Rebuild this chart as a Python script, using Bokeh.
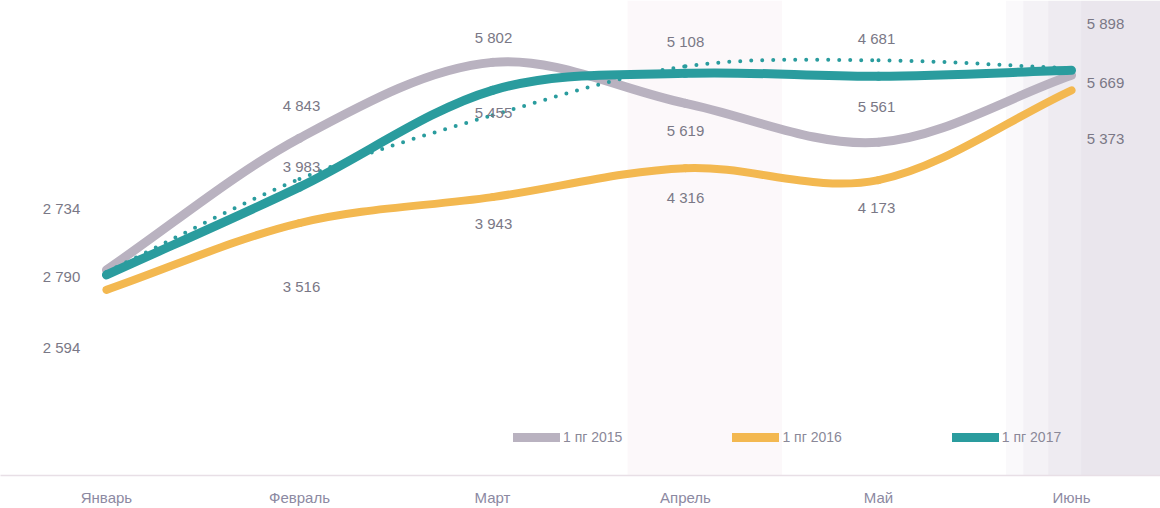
from bokeh.plotting import figure
from bokeh.models import (Range1d, FixedTicker, ColumnDataSource, Legend,
                          LegendItem, BoxAnnotation)
from bokeh.core.properties import value
from bokeh.embed import file_html
from bokeh.resources import INLINE

# ---------------- data ----------------
months = ["Январь", "Февраль", "Март", "Апрель", "Май", "Июнь"]
series_names = ["1 пг 2015", "1 пг 2016", "1 пг 2017"]

# curve levels (arbitrary visual scale)
line_2015 = [206, 338, 414, 373, 334, 401]
line_2016 = [186, 253, 279, 308, 296, 386]
line_2017 = [201, 289, 386, 403, 400, 406]
trend_2017 = [204, 297, 361, 410, 416, 408]

# data labels (three rows per month)
labels_top = [2734, 4843, 5802, 5108, 4681, 5898]
labels_mid = [2790, 3983, 5455, 5619, 5561, 5669]
labels_bottom = [2594, 3516, 3943, 4316, 4173, 5373]
label_level_top = [268, 371, 439, 435, 438, 453]
label_level_mid = [199, 310, 364, 346, 370, 394]
label_level_bottom = [128, 189, 253, 279, 269, 338]
label_shift = [-45, 2, 1, 0, -2, 34]

# ---------------- styles ----------------
C_GRAY = "#b9b2c0"
C_YELLOW = "#f3b850"
C_TEAL = "#2a9c9e"
TXT = "#7a7886"
FONT = "Liberation Sans"


def bezier_source(ys):
    n = len(ys)
    xs = list(range(n))
    m = []
    for i in range(n):
        if i == 0:
            m.append(ys[1] - ys[0])
        elif i == n - 1:
            m.append(ys[-1] - ys[-2])
        else:
            m.append((ys[i + 1] - ys[i - 1]) / 2)
    return ColumnDataSource(dict(
        x0=xs[:-1], y0=ys[:-1], x1=xs[1:], y1=ys[1:],
        cx0=[x + 1 / 3 for x in xs[:-1]],
        cy0=[ys[i] + m[i] / 3 for i in range(n - 1)],
        cx1=[x + 2 / 3 for x in xs[:-1]],
        cy1=[ys[i + 1] - m[i + 1] / 3 for i in range(n - 1)],
    ))


p = figure(width=1160, height=508, x_range=Range1d(-0.549, 5.461),
           y_range=Range1d(0, 476), output_backend="svg",
           toolbar_location=None, min_border=0)
p.outline_line_color = None
p.grid.visible = False
p.yaxis.visible = False
p.background_fill_color = "white"
p.border_fill_color = "white"

# scan-like tint on the right and middle (behind everything)
for left, alpha in [(4.66, 0.10), (4.75, 0.12), (4.88, 0.14), (5.05, 0.12)]:
    p.add_layout(BoxAnnotation(left=left, right=6, fill_color="#cdc3d4",
                               fill_alpha=alpha, line_color=None,
                               level="underlay"))
p.add_layout(BoxAnnotation(left=2.7, right=3.5, fill_color="#f6e9f0",
                           fill_alpha=0.3, line_color=None, level="underlay"))

ax = p.xaxis[0]
ax.ticker = FixedTicker(ticks=list(range(len(months))))
ax.major_label_overrides = {i: m for i, m in enumerate(months)}
ax.major_tick_line_color = None
ax.minor_tick_line_color = None
ax.axis_line_color = "#e8dfe6"
ax.axis_line_width = 1.5
ax.major_label_text_font = FONT
ax.major_label_text_font_size = "15px"
ax.major_label_text_color = "#8c89a2"
ax.major_label_standoff = 7

# curves
p.bezier(x0="x0", y0="y0", x1="x1", y1="y1", cx0="cx0", cy0="cy0",
         cx1="cx1", cy1="cy1", source=bezier_source(line_2015),
         line_color=C_GRAY, line_width=9, line_cap="round")
p.bezier(x0="x0", y0="y0", x1="x1", y1="y1", cx0="cx0", cy0="cy0",
         cx1="cx1", cy1="cy1", source=bezier_source(line_2016),
         line_color=C_YELLOW, line_width=8, line_cap="round")
p.bezier(x0="x0", y0="y0", x1="x1", y1="y1", cx0="cx0", cy0="cy0",
         cx1="cx1", cy1="cy1", source=bezier_source(trend_2017),
         line_color=C_TEAL, line_width=4, line_cap="round", line_dash="0 11")
p.bezier(x0="x0", y0="y0", x1="x1", y1="y1", cx0="cx0", cy0="cy0",
         cx1="cx1", cy1="cy1", source=bezier_source(line_2017),
         line_color=C_TEAL, line_width=9, line_cap="round")


def fmt(v):
    return f"{v:,}".replace(",", " ")


xs, ys, ts, offs = [], [], [], []
for vals, lev in [(labels_top, label_level_top), (labels_mid, label_level_mid),
                  (labels_bottom, label_level_bottom)]:
    for i in range(len(months)):
        xs.append(i)
        ys.append(lev[i])
        ts.append(fmt(vals[i]))
        offs.append(label_shift[i])
p.text(x="x", y="y", text="t", x_offset="o",
       source=ColumnDataSource(dict(x=xs, y=ys, t=ts, o=offs)),
       text_font=value(FONT), text_font_size=value("15px"),
       text_color=TXT, text_align="center", text_baseline="middle")

# legend (proxy renderers placed outside the visible range)
leg_r = []
for c in [C_GRAY, C_YELLOW, C_TEAL]:
    leg_r.append(p.line(x=[-20, -19], y=[-500, -500], line_color=c,
                        line_width=9, line_cap="round"))
legend = Legend(items=[LegendItem(label=n, renderers=[r])
                       for n, r in zip(series_names, leg_r)],
                orientation="horizontal", location=(513, 30),
                glyph_width=47, glyph_height=10, label_standoff=3,
                spacing=110, padding=0, margin=0, border_line_color=None,
                background_fill_alpha=0, label_text_font=FONT,
                label_text_font_size="14px", label_text_color="#8a8898")
p.add_layout(legend)

open("out.html", "w").write(file_html(p, INLINE))
